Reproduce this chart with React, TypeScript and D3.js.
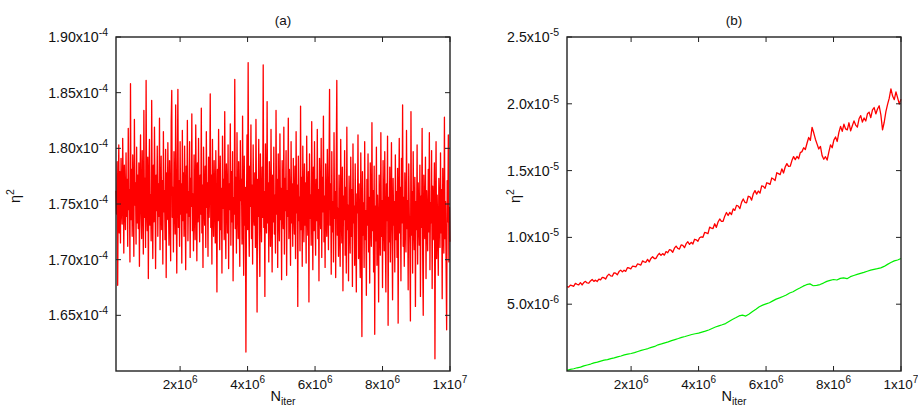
import React from "react";
import * as d3 from "d3";

// ---------- DATA ----------
// Panel (a): eta^2 in units of 1e-4, evenly spaced in N_iter from 1e5 to 1e7
const N_START = 1e5;
const N_END = 1e7;
const etaA: number[] = [
  1.762, 1.741, 1.788, 1.677, 1.756, 1.803, 1.724, 1.779, 1.715, 1.791, 1.748, 1.732, 1.809, 1.768, 1.706, 1.785, 1.752, 1.727, 1.796, 1.739,
  1.772, 1.712, 1.818, 1.745, 1.763, 1.698, 1.858, 1.736, 1.781, 1.721, 1.794, 1.757, 1.703, 1.826, 1.749, 1.769, 1.714, 1.801, 1.733, 1.776,
  1.728, 1.787, 1.694, 1.764, 1.812, 1.742, 1.719, 1.798, 1.757, 1.705, 1.834, 1.738, 1.773, 1.711, 1.861, 1.746, 1.726, 1.792, 1.683, 1.767,
  1.808, 1.731, 1.758, 1.717, 1.843, 1.749, 1.701, 1.785, 1.734, 1.819, 1.762, 1.692, 1.776, 1.744, 1.802, 1.721, 1.768, 1.739, 1.827, 1.709,
  1.754, 1.793, 1.727, 1.771, 1.696, 1.815, 1.743, 1.762, 1.718, 1.799, 1.684, 1.778, 1.736, 1.805, 1.752, 1.713, 1.789, 1.747, 1.699, 1.824,
  1.852, 1.738, 1.765, 1.707, 1.797, 1.751, 1.723, 1.839, 1.746, 1.688, 1.782, 1.853, 1.729, 1.771, 1.712, 1.806, 1.741, 1.768, 1.697, 1.816,
  1.735, 1.778, 1.721, 1.802, 1.756, 1.691, 1.784, 1.742, 1.825, 1.717, 1.761, 1.739, 1.806, 1.702, 1.773, 1.748, 1.831, 1.726, 1.759, 1.708,
  1.794, 1.745, 1.718, 1.821, 1.763, 1.699, 1.787, 1.734, 1.809, 1.752, 1.716, 1.776, 1.741, 1.836, 1.724, 1.767, 1.693, 1.801, 1.755, 1.731,
  1.784, 1.711, 1.815, 1.747, 1.769, 1.703, 1.792, 1.738, 1.762, 1.849, 1.729, 1.776, 1.696, 1.808, 1.744, 1.721, 1.789, 1.757, 1.715, 1.798,
  1.743, 1.671, 1.781, 1.735, 1.817, 1.752, 1.709, 1.793, 1.727, 1.764, 1.688, 1.811, 1.746, 1.772, 1.718, 1.833, 1.739, 1.701, 1.786, 1.758,
  1.724, 1.803, 1.692, 1.768, 1.745, 1.822, 1.713, 1.779, 1.734, 1.797, 1.681, 1.756, 1.741, 1.862, 1.728, 1.774, 1.706, 1.814, 1.749, 1.719,
  1.788, 1.737, 1.694, 1.807, 1.753, 1.772, 1.714, 1.829, 1.742, 1.686, 1.793, 1.731, 1.765, 1.617, 1.746, 1.812, 1.727, 1.877, 1.738, 1.703,
  1.784, 1.748, 1.821, 1.719, 1.767, 1.696, 1.803, 1.742, 1.731, 1.778, 1.711, 1.826, 1.756, 1.653, 1.772, 1.739, 1.808, 1.722, 1.685, 1.795,
  1.751, 1.716, 1.783, 1.738, 1.875, 1.729, 1.761, 1.667, 1.804, 1.747, 1.724, 1.842, 1.733, 1.769, 1.698, 1.788, 1.755, 1.712, 1.817, 1.743,
  1.689, 1.776, 1.734, 1.801, 1.723, 1.758, 1.706, 1.834, 1.741, 1.772, 1.693, 1.795, 1.745, 1.717, 1.813, 1.736, 1.764, 1.682, 1.789, 1.752,
  1.728, 1.819, 1.705, 1.773, 1.744, 1.798, 1.686, 1.762, 1.739, 1.827, 1.719, 1.781, 1.751, 1.695, 1.806, 1.733, 1.768, 1.712, 1.791, 1.746,
  1.723, 1.784, 1.701, 1.815, 1.742, 1.767, 1.658, 1.793, 1.735, 1.756, 1.708, 1.838, 1.727, 1.774, 1.694, 1.802, 1.748, 1.716, 1.786, 1.731,
  1.769, 1.697, 1.811, 1.744, 1.722, 1.779, 1.662, 1.795, 1.737, 1.758, 1.713, 1.824, 1.749, 1.691, 1.783, 1.726, 1.806, 1.741, 1.704, 1.772,
  1.735, 1.817, 1.719, 1.763, 1.681, 1.791, 1.747, 1.728, 1.809, 1.702, 1.774, 1.743, 1.829, 1.716, 1.757, 1.693, 1.786, 1.738, 1.721, 1.799,
  1.754, 1.709, 1.782, 1.853, 1.731, 1.768, 1.687, 1.797, 1.725, 1.752, 1.698, 1.814, 1.737, 1.761, 1.684, 1.789, 1.861, 1.722, 1.746, 1.703,
  1.776, 1.729, 1.694, 1.808, 1.741, 1.715, 1.783, 1.672, 1.757, 1.736, 1.798, 1.704, 1.765, 1.688, 1.819, 1.727, 1.749, 1.681, 1.775, 1.738,
  1.706, 1.792, 1.721, 1.763, 1.676, 1.804, 1.733, 1.748, 1.695, 1.786, 1.724, 1.671, 1.759, 1.742, 1.812, 1.701, 1.768, 1.715, 1.684, 1.796,
  1.737, 1.631, 1.779, 1.722, 1.751, 1.693, 1.806, 1.718, 1.744, 1.668, 1.772, 1.731, 1.795, 1.707, 1.756, 1.679, 1.787, 1.741, 1.712, 1.823,
  1.726, 1.762, 1.689, 1.784, 1.633, 1.748, 1.717, 1.801, 1.695, 1.758, 1.729, 1.662, 1.776, 1.739, 1.704, 1.814, 1.721, 1.753, 1.675, 1.789,
  1.744, 1.708, 1.797, 1.723, 1.671, 1.768, 1.735, 1.811, 1.641, 1.756, 1.716, 1.783, 1.698, 1.742, 1.805, 1.727, 1.664, 1.773, 1.731, 1.752,
  1.689, 1.794, 1.718, 1.761, 1.702, 1.782, 1.643, 1.747, 1.809, 1.724, 1.765, 1.681, 1.791, 1.733, 1.839, 1.712, 1.756, 1.694, 1.778, 1.739,
  1.707, 1.816, 1.728, 1.753, 1.673, 1.786, 1.741, 1.715, 1.645, 1.833, 1.722, 1.761, 1.688, 1.797, 1.734, 1.709, 1.774, 1.658, 1.752, 1.727,
  1.803, 1.696, 1.769, 1.738, 1.713, 1.785, 1.667, 1.757, 1.729, 1.818, 1.704, 1.650, 1.776, 1.742, 1.719, 1.792, 1.683, 1.762, 1.736, 1.708,
  1.781, 1.725, 1.814, 1.691, 1.751, 1.733, 1.798, 1.674, 1.766, 1.718, 1.743, 1.787, 1.611, 1.739, 1.806, 1.701, 1.758, 1.729, 1.686, 1.773,
  1.745, 1.711, 1.796, 1.724, 1.763, 1.665, 1.782, 1.737, 1.706, 1.828, 1.719, 1.752, 1.693, 1.637, 1.771, 1.734, 1.812, 1.698, 1.747, 1.716,
];

// Panel (b): eta^2 in units of 1e-6, evenly spaced in N_iter from 1e5 to 1e7
const etaBRed: number[] = [
  6.32, 6.28, 6.43, 6.39, 6.34, 6.56, 6.49, 6.45, 6.61, 6.44, 6.62, 6.71, 6.59, 6.57, 6.74, 6.85, 6.71, 6.80, 6.70, 6.88,
  6.82, 7.01, 6.98, 6.88, 7.12, 7.25, 7.12, 7.10, 7.35, 7.32, 7.20, 7.44, 7.55, 7.42, 7.54, 7.46, 7.73, 7.71, 7.64, 7.84,
  7.83, 7.79, 8.01, 7.98, 7.93, 8.24, 8.17, 8.14, 8.36, 8.17, 8.42, 8.55, 8.42, 8.42, 8.65, 8.81, 8.65, 8.79, 8.67, 8.94,
  8.85, 9.08, 9.04, 8.89, 9.19, 9.35, 9.17, 9.13, 9.44, 9.40, 9.23, 9.53, 9.67, 9.48, 9.63, 9.51, 9.86, 9.82, 9.71, 9.97,
  10.04, 10.01, 10.37, 10.34, 10.28, 10.77, 10.69, 10.66, 11.02, 10.75, 11.15, 11.38, 11.20, 11.21, 11.59, 11.86, 11.64, 11.87, 11.71, 12.14,
  12.02, 12.40, 12.35, 12.15, 12.62, 12.88, 12.63, 12.59, 13.08, 13.04, 12.79, 13.27, 13.50, 13.24, 13.47, 13.31, 13.86, 13.82, 13.67, 14.09,
  14.04, 13.97, 14.45, 14.37, 14.26, 14.84, 14.77, 14.70, 15.13, 14.82, 15.27, 15.52, 15.32, 15.33, 15.75, 16.05, 15.82, 16.06, 15.89, 16.35,
  16.42, 16.71, 16.58, 17.05, 17.48, 17.26, 18.24, 17.83, 17.35, 16.98, 16.62, 16.81, 16.12, 15.85, 16.04, 15.79, 16.38, 16.92, 16.71, 17.28,
  17.52, 17.18, 17.86, 18.31, 17.94, 18.47, 18.12, 18.05, 18.58, 17.97, 18.36, 18.72, 18.41, 18.25, 18.88, 19.12, 18.63, 18.94, 18.71, 19.25,
  19.38, 18.96, 19.55, 19.72, 19.24, 19.61, 19.85, 19.18, 18.05, 18.62, 19.41, 19.96, 20.42, 21.12, 20.58, 20.31, 20.89, 20.44, 19.98, 20.35,
];
const etaBGreen: number[] = [
  0.05, 0.12, 0.17, 0.24, 0.29, 0.38, 0.45, 0.52, 0.61, 0.66,
  0.74, 0.81, 0.85, 0.93, 0.98, 1.06, 1.12, 1.21, 1.26, 1.31,
  1.38, 1.46, 1.54, 1.61, 1.68, 1.77, 1.84, 1.96, 2.03, 2.11,
  2.18, 2.27, 2.35, 2.43, 2.52, 2.58, 2.66, 2.73, 2.79, 2.84,
  2.91, 2.98, 3.07, 3.18, 3.29, 3.38, 3.46, 3.55, 3.71, 3.86,
  3.98, 4.12, 4.18, 4.11, 4.26, 4.45, 4.62, 4.81, 4.93, 5.02,
  5.11, 5.25, 5.38, 5.47, 5.58, 5.69, 5.84, 5.93, 6.08, 6.21,
  6.35, 6.46, 6.52, 6.38, 6.41, 6.47, 6.58, 6.71, 6.78, 6.85,
  6.81, 6.93, 6.97, 6.91, 7.06, 7.15, 7.23, 7.31, 7.38, 7.47,
  7.55, 7.61, 7.66, 7.72, 7.83, 7.98, 8.12, 8.24, 8.31, 8.42,
];

const xTicks = [2e6, 4e6, 6e6, 8e6, 1e7];
const xTickBase = ["2x10", "4x10", "6x10", "8x10", "1x10"];
const xTickExp = ["6", "6", "6", "6", "7"];

const yTicksA = [1.65, 1.7, 1.75, 1.8, 1.85, 1.9];
const yTickBaseA = ["1.65x10", "1.70x10", "1.75x10", "1.80x10", "1.85x10", "1.90x10"];
const yTickExpA = ["-4", "-4", "-4", "-4", "-4", "-4"];

const yTicksB = [5, 10, 15, 20, 25];
const yTickBaseB = ["5.0x10", "1.0x10", "1.5x10", "2.0x10", "2.5x10"];
const yTickExpB = ["-6", "-5", "-5", "-5", "-5"];

const FONT = "'Liberation Sans', Arial, Helvetica, sans-serif";

type Series = { values: number[]; color: string; width: number };

function Panel(props: {
  left: number;
  right: number;
  top: number;
  bottom: number;
  yDomain: [number, number];
  yTicks: number[];
  yBase: string[];
  yExp: string[];
  series: Series[];
  title: string;
  ylabelX: number;
}) {
  const { left, right, top, bottom, yDomain, yTicks, yBase, yExp, series, title, ylabelX } = props;
  const x = d3.scaleLinear().domain([N_START, N_END]).range([left, right]);
  const y = d3.scaleLinear().domain(yDomain).range([bottom, top]);
  const tl = 5;
  const cx = (left + right) / 2;

  return (
    <g>
      {series.map((s, si) => {
        const n = s.values.length;
        const line = d3
          .line<number>()
          .x((_, i) => x(N_START + ((N_END - N_START) * i) / (n - 1)))
          .y((v) => y(v));
        return (
          <path key={si} d={line(s.values) || ""} fill="none" stroke={s.color} strokeWidth={s.width} strokeLinejoin="round" />
        );
      })}
      <rect x={left} y={top} width={right - left} height={bottom - top} fill="none" stroke="#222" strokeWidth={1.4} />
      {xTicks.map((t, i) => (
        <g key={"xt" + i}>
          <line x1={x(t)} x2={x(t)} y1={bottom} y2={bottom - tl} stroke="#222" strokeWidth={1} />
          <line x1={x(t)} x2={x(t)} y1={top} y2={top + tl} stroke="#222" strokeWidth={1} />
          <text x={x(t)} y={bottom + 17.5} textAnchor="middle" fontFamily={FONT} fontSize={13.5} fill="#111">
            {xTickBase[i]}
            <tspan dy={-6} fontSize={10}>{xTickExp[i]}</tspan>
          </text>
        </g>
      ))}
      {yTicks.map((t, i) => (
        <g key={"yt" + i}>
          <line x1={left} x2={left + tl} y1={y(t)} y2={y(t)} stroke="#222" strokeWidth={1} />
          <line x1={right} x2={right - tl} y1={y(t)} y2={y(t)} stroke="#222" strokeWidth={1} />
          <text x={left - 8} y={y(t) + 5} textAnchor="end" fontFamily={FONT} fontSize={14.2} fill="#111">
            {yBase[i]}
            <tspan dy={-6} fontSize={10.5}>{yExp[i]}</tspan>
          </text>
        </g>
      ))}
      <text x={cx} y={25} textAnchor="middle" fontFamily={FONT} fontSize={13.5} fill="#111">
        {title}
      </text>
      <text x={cx} y={401} textAnchor="middle" fontFamily={FONT} fontSize={14.5} fill="#111">
        N
        <tspan dy={3.5} fontSize={10.5}>iter</tspan>
      </text>
      <text
        transform={`translate(${ylabelX},196) rotate(-90)`}
        textAnchor="middle"
        fontFamily={FONT}
        fontSize={14.5}
        fill="#111"
      >
        η<tspan dy={-6} fontSize={10.5}>2</tspan>
      </text>
    </g>
  );
}

export default function App() {
  return (
    <svg
      width={918}
      height={408}
      viewBox="0 0 918 408"
      style={{ position: "absolute", left: 0, top: 0, background: "#fff" }}
    >
      <rect x={0} y={0} width={918} height={408} fill="#fff" />
      <Panel
        left={116}
        right={450}
        top={37}
        bottom={371}
        yDomain={[1.6, 1.9]}
        yTicks={yTicksA}
        yBase={yTickBaseA}
        yExp={yTickExpA}
        series={[{ values: etaA, color: "#ff0000", width: 1.3 }]}
        title="(a)"
        ylabelX={20}
      />
      <Panel
        left={567}
        right={901}
        top={37}
        bottom={371}
        yDomain={[0, 25]}
        yTicks={yTicksB}
        yBase={yTickBaseB}
        yExp={yTickExpB}
        series={[
          { values: etaBRed, color: "#ff0000", width: 1.3 },
          { values: etaBGreen, color: "#00ee00", width: 1.2 },
        ]}
        title="(b)"
        ylabelX={520}
      />
    </svg>
  );
}
